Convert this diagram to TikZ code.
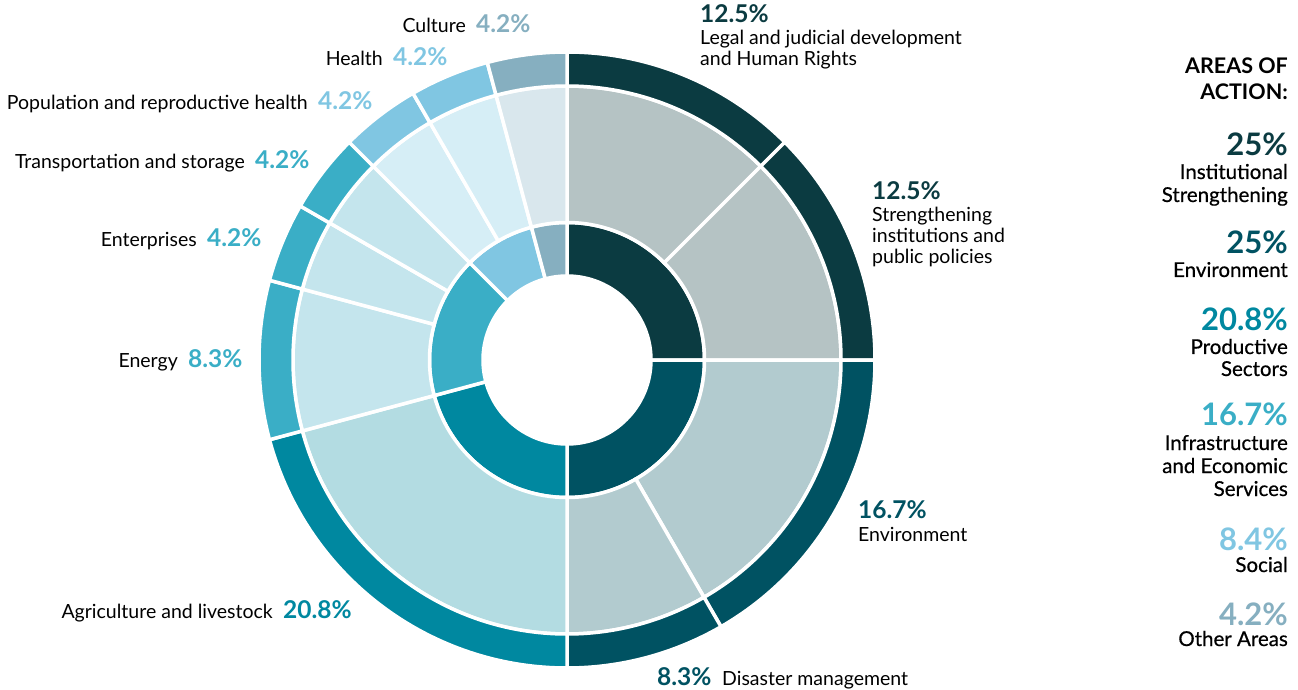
\documentclass[tikz,border=0pt]{standalone}
\usepackage{fontspec}
\setmainfont{Lato}
\newfontfamily\legfont{Lato}[FakeBold=0.6]
\definecolor{cA}{HTML}{0B3B41}
\definecolor{cB}{HTML}{005262}
\definecolor{cC}{HTML}{0088A0}
\definecolor{cD}{HTML}{3AAEC6}
\definecolor{cE}{HTML}{80C6E2}
\definecolor{cF}{HTML}{86AFC0}
\definecolor{lA}{HTML}{B5C3C4}
\definecolor{lB}{HTML}{B2CBCF}
\definecolor{lC}{HTML}{B3DCE2}
\definecolor{lD}{HTML}{C4E5ED}
\definecolor{lE}{HTML}{D6EEF6}
\definecolor{lF}{HTML}{D9E7ED}
\newcommand{\ringseg}[5]{%
  \filldraw[fill=#1, draw=white, line width=3.5pt, line join=miter]
    (#2:#4) arc[start angle=#2, end angle=#3, radius=#4]
    -- (#3:#5) arc[start angle=#3, end angle=#2, radius=#5] -- cycle;}
\tikzset{
  lbl/.style={inner sep=0pt, font=\fontsize{19.5}{22}\selectfont, text=black},
  pct/.style={inner sep=0pt, font=\fontsize{24.5}{26}\selectfont\bfseries},
  legtxt/.style={inner sep=0pt, anchor=base east, font=\legfont\fontsize{20.5}{23}\selectfont, text=black},
  legpct/.style={inner sep=0pt, anchor=base east, font=\fontsize{31}{33}\selectfont\bfseries},
  leghead/.style={inner sep=0pt, anchor=base east, font=\fontsize{21.5}{24}\selectfont\bfseries, text=black}
}
\begin{document}
\begin{tikzpicture}[x=1pt,y=1pt]
\useasboundingbox (0,0) rectangle (1298,689);
\begin{scope}[shift={(567,329)}]
% inner ring
\ringseg{cA}{90}{0}{84pt}{137.5pt}
\ringseg{cB}{0}{-90}{84pt}{137.5pt}
\ringseg{cC}{-90}{-165}{84pt}{137.5pt}
\ringseg{cD}{-165}{-225}{84pt}{137.5pt}
\ringseg{cE}{-225}{-255}{84pt}{137.5pt}
\ringseg{cF}{-255}{-270}{84pt}{137.5pt}
% middle ring
\ringseg{lA}{90}{45}{137.5pt}{274pt}
\ringseg{lA}{45}{0}{137.5pt}{274pt}
\ringseg{lB}{0}{-60}{137.5pt}{274pt}
\ringseg{lB}{-60}{-90}{137.5pt}{274pt}
\ringseg{lC}{-90}{-165}{137.5pt}{274pt}
\ringseg{lD}{-165}{-195}{137.5pt}{274pt}
\ringseg{lD}{-195}{-210}{137.5pt}{274pt}
\ringseg{lD}{-210}{-225}{137.5pt}{274pt}
\ringseg{lE}{-225}{-240}{137.5pt}{274pt}
\ringseg{lE}{-240}{-255}{137.5pt}{274pt}
\ringseg{lF}{-255}{-270}{137.5pt}{274pt}
% outer ring
\ringseg{cA}{90}{45}{274pt}{308pt}
\ringseg{cA}{45}{0}{274pt}{308pt}
\ringseg{cB}{0}{-60}{274pt}{308pt}
\ringseg{cB}{-60}{-90}{274pt}{308pt}
\ringseg{cC}{-90}{-165}{274pt}{308pt}
\ringseg{cD}{-165}{-195}{274pt}{308pt}
\ringseg{cD}{-195}{-210}{274pt}{308pt}
\ringseg{cD}{-210}{-225}{274pt}{308pt}
\ringseg{cE}{-225}{-240}{274pt}{308pt}
\ringseg{cE}{-240}{-255}{274pt}{308pt}
\ringseg{cF}{-255}{-270}{274pt}{308pt}
\end{scope}
% right-hand labels
\node[pct, text=cA, anchor=base west] (pLegal) at (700,666) {12.5\%};
\node[lbl, anchor=base west] (tLegalA) at (700,644) {Legal and judicial development};
\node[lbl, anchor=base west] (tLegalB) at (700,623) {and Human Rights};
\node[pct, text=cA, anchor=base west] (pStr) at (872,489) {12.5\%};
\node[lbl, anchor=base west] (tStrA) at (872,467) {Strengthening};
\node[lbl, anchor=base west] (tStrB) at (872,446) {institutions and};
\node[lbl, anchor=base west] (tStrC) at (872,425) {public policies};
\node[pct, text=cB, anchor=base west] (pEnv) at (858,171) {16.7\%};
\node[lbl, anchor=base west] (tEnv) at (858,148) {Environment};
\node[pct, text=cB, anchor=base west] (pDis) at (657,4) {8.3\%};
\node[lbl, anchor=base west] (tDis) at (722,4) {Disaster management};
% left-hand labels
\node[pct, text=cF, anchor=base west] (pCul) at (476,656) {4.2\%};
\node[lbl, anchor=base east] (tCul) at (466,656) {Culture};
\node[pct, text=cE, anchor=base west] (pHea) at (393,623) {4.2\%};
\node[lbl, anchor=base east] (tHea) at (383,623) {Health};
\node[pct, text=cE, anchor=base west] (pPop) at (318,579) {4.2\%};
\node[lbl, anchor=base east] (tPop) at (308,579) {Population and reproductive health};
\node[pct, text=cD, anchor=base west] (pTra) at (255,520) {4.2\%};
\node[lbl, anchor=base east] (tTra) at (245,520) {Transportation and storage};
\node[pct, text=cD, anchor=base west] (pEnt) at (207,442) {4.2\%};
\node[lbl, anchor=base east] (tEnt) at (197,442) {Enterprises};
\node[pct, text=cD, anchor=base west] (pEne) at (188,322) {8.3\%};
\node[lbl, anchor=base east] (tEne) at (178,322) {Energy};
\node[pct, text=cC, anchor=base west] (pAgr) at (283,71) {20.8\%};
\node[lbl, anchor=base east] (tAgr) at (273,71) {Agriculture and livestock};
% legend
\node[leghead] (hA) at (1288,615) {AREAS OF};
\node[leghead] (hB) at (1288,589) {ACTION:};
\node[legpct, text=cA] (g1p) at (1288,533) {25\%};
\node[legtxt] (g1a) at (1288,510) {Institutional};
\node[legtxt] (g1b) at (1288,487) {Strengthening};
\node[legpct, text=cB] (g2p) at (1288,435) {25\%};
\node[legtxt] (g2a) at (1288,412) {Environment};
\node[legpct, text=cC] (g3p) at (1288,358) {20.8\%};
\node[legtxt] (g3a) at (1288,335) {Productive};
\node[legtxt] (g3b) at (1288,313) {Sectors};
\node[legpct, text=cD] (g4p) at (1288,264) {16.7\%};
\node[legtxt] (g4a) at (1288,239) {Infrastructure};
\node[legtxt] (g4b) at (1288,216) {and Economic};
\node[legtxt] (g4c) at (1288,193) {Services};
\node[legpct, text=cE] (g5p) at (1288,139) {8.4\%};
\node[legtxt] (g5a) at (1288,117) {Social};
\node[legpct, text=cF] (g6p) at (1288,64) {4.2\%};
\node[legtxt] (g6a) at (1288,43) {Other Areas};
\end{tikzpicture}
\end{document}
